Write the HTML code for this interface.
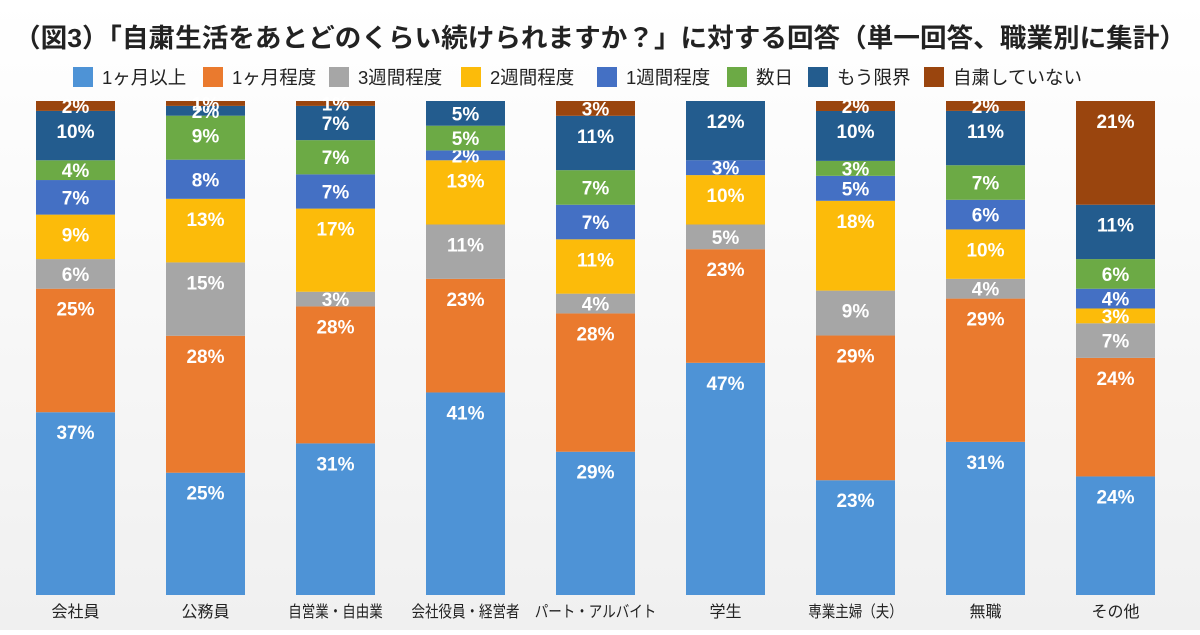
<!DOCTYPE html>
<html><head><meta charset="utf-8"><style>
body{margin:0;width:1200px;height:630px;background:linear-gradient(#ffffff,#f0f0f0);font-family:"Liberation Sans","Noto Sans CJK JP",sans-serif;overflow:hidden}
</style></head><body>
<svg id="c" width="1200" height="630">
<text x="14" y="47" font-size="26" font-weight="bold" fill="#222" textLength="1172" lengthAdjust="spacingAndGlyphs">（図3）「自粛生活をあとどのくらい続けられますか？」に対する回答（単一回答、職業別に集計）</text>
<g id="legend"></g>
<g id="bars"></g>
<g id="xlabels"></g>
</svg>
<script>
const categories=["会社員","公務員","自営業・自由業","会社役員・経営者","パート・アルバイト","学生","専業主婦（夫）","無職","その他"];
const seriesNames=["1ヶ月以上","1ヶ月程度","3週間程度","2週間程度","1週間程度","数日","もう限界","自粛していない"];
const s1=[37,25,31,41,29,47,23,31,24];
const s2=[25,28,28,23,28,23,29,29,24];
const s3=[6,15,3,11,4,5,9,4,7];
const s4=[9,13,17,13,11,10,18,10,3];
const s5=[7,8,7,2,7,3,5,6,4];
const s6=[4,9,7,5,7,0,3,7,6];
const s7=[10,2,7,5,11,12,10,11,11];
const s8=[2,1,1,0,3,0,2,2,21];
const series=[s1,s2,s3,s4,s5,s6,s7,s8];
const colors=["#4e93d6","#ea7a2e","#a6a6a6","#fcbb0a","#4470c4","#6caa45","#235c8e","#9a450e"];
const NS="http://www.w3.org/2000/svg";
const top0=101,bot=595,x0=36,step=130,bw=79;
function xPos(i){return x0+i*step;}
function yScale(frac){return bot-frac*(bot-top0);}
const lg=document.getElementById('legend');
const lx=[73,203,329,461,597,727,808,924];
seriesNames.forEach((n,k)=>{
 const r=document.createElementNS(NS,'rect');
 r.setAttribute('x',lx[k]);r.setAttribute('y',67);r.setAttribute('width',20);r.setAttribute('height',20);r.setAttribute('fill',colors[k]);
 
 
 lg.appendChild(r);
 const t=document.createElementNS(NS,'text');
 t.setAttribute('x',lx[k]+29);t.setAttribute('y',84);t.setAttribute('font-size','18.5');t.setAttribute('fill','#222');t.textContent=n;
 
 
 lg.appendChild(t);
});
const bg=document.getElementById('bars'),xl=document.getElementById('xlabels');
categories.forEach((c,i)=>{
 let total=0;series.forEach(s=>total+=s[i]);
 let cum=0;
 series.forEach((s,k)=>{
  const v=s[i];if(v<=0)return;
  const y1=yScale(cum/total),y2=yScale((cum+v)/total);cum+=v;
  const r=document.createElementNS(NS,'rect');
  r.setAttribute('x',xPos(i));r.setAttribute('y',y2);r.setAttribute('width',bw);r.setAttribute('height',y1-y2);r.setAttribute('fill',colors[k]);
  
  
  bg.appendChild(r);
  const cy=Math.min((y1+y2)/2,y2+20);
  const t=document.createElementNS(NS,'text');
  t.setAttribute('x',xPos(i)+bw/2);t.setAttribute('y',cy+7);t.setAttribute('text-anchor','middle');
  t.setAttribute('font-size','19');t.setAttribute('font-weight','bold');t.setAttribute('fill','#fff');
  t.textContent=v+'%';
  
  
  bg.appendChild(t);
 });
 const t=document.createElementNS(NS,'text');
 t.setAttribute('x',xPos(i)+bw/2);t.setAttribute('y',617);t.setAttribute('text-anchor','middle');t.setAttribute('font-size','16');t.setAttribute('fill','#222');
 if(c.length>=7){t.setAttribute('textLength',c.length*13.5);t.setAttribute('lengthAdjust','spacingAndGlyphs');}
 t.textContent=c;
 
 
 xl.appendChild(t);
});
</script>
</body></html>
